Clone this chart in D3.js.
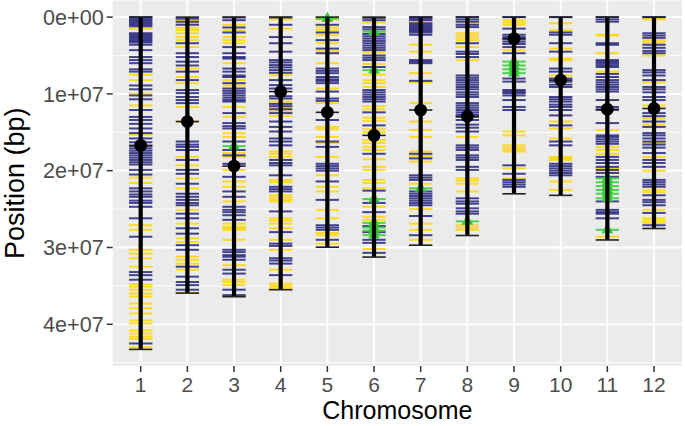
<!DOCTYPE html>
<html>
<head>
<meta charset="utf-8">
<script src="https://cdn.jsdelivr.net/npm/d3@7"></script>
<style>
  body { margin: 0; background: #ffffff; }
  svg text { font-family: "Liberation Sans", Arial, Helvetica, sans-serif; }
</style>
</head>
<body>
<div id="my_dataviz"></div>
<script>
// --------------------------------------
// Chromosomes (rice, IRGSP-1.0), lengths and centromeres in Mb
const chromosomes = [1, 2, 3, 4, 5, 6, 7, 8, 9, 10, 11, 12];
const chrLengthMb = [43.27, 35.94, 36.41, 35.50, 29.96, 31.25, 29.70, 28.44, 23.01, 23.21, 29.02, 27.53];
const centromereMb = [16.7, 13.6, 19.4, 9.7, 12.4, 15.4, 12.1, 12.9, 2.8, 8.2, 12.0, 11.9];

// Marker positions (Mb), one list per chromosome
const navyMarkers = [
    [0, 0.2, 0.4, 0.6, 0.8, 1.0, 1.2, 2.1, 2.3, 2.5, 2.7, 2.9, 3.1, 3.3, 3.6, 4.3, 5.2, 5.6, 6.0, 6.8, 7.1, 8.9, 9.4, 10.2, 10.7, 12.1, 13.0, 13.4, 13.9, 14.5, 15.1, 15.8, 16.3, 16.8, 17.1, 17.4, 17.7, 18.0, 18.3, 18.6, 18.9, 19.2, 19.9, 20.5, 22.3, 22.7, 23.1, 23.4, 23.9, 24.2, 24.7, 26.2, 28.6, 33.2, 33.6, 34.2, 42.5],
    [0.2, 0.6, 1.0, 3.4, 4.7, 5.2, 5.8, 6.3, 7.1, 8.2, 9.5, 9.9, 10.4, 10.8, 11.2, 16.2, 16.6, 16.9, 17.3, 18.6, 19.9, 20.4, 21.7, 23.0, 23.4, 23.8, 24.2, 24.5, 25.6, 26.2, 27.5, 28.2, 29.7, 30.3, 32.5, 33.8, 34.5, 34.9, 35.5],
    [0.05, 0.4, 1.35, 2.0, 3.9, 4.7, 5.2, 5.4, 6.7, 7.1, 7.6, 7.8, 8.6, 9.3, 9.6, 9.9, 10.2, 10.5, 10.8, 11.0, 12.5, 13.8, 14.2, 14.5, 16.2, 17.3, 18.0, 19.1, 20.8, 22.7, 23.4, 24.7, 25.1, 25.4, 25.8, 26.4, 30.3, 30.6, 31.0, 31.2, 31.6, 32.9, 33.4, 35.5, 36.2],
    [0.05, 1.0, 2.6, 3.4, 4.5, 5.6, 5.9, 6.25, 6.55, 6.9, 7.25, 8.2, 8.85, 9.3, 10.3, 10.6, 11.3, 11.6, 12.0, 12.5, 13.6, 14.3, 14.9, 15.8, 16.2, 16.7, 18.6, 19.0, 19.3, 20.6, 22.1, 22.4, 22.7, 25.3, 28.0, 29.5, 29.8, 31.4, 31.7, 32.1, 33.6],
    [1.0, 2.0, 3.0, 4.1, 4.7, 6.7, 7.0, 7.3, 7.8, 8.1, 8.3, 8.6, 9.7, 10.6, 10.9, 13.4, 16.2, 16.9, 19.1, 19.4, 19.7, 20.0, 21.4, 23.8, 27.1, 27.4, 27.7, 29.0],
    [0.1, 0.4, 1.3, 1.6, 2.2, 2.5, 2.8, 3.1, 3.4, 3.7, 4.0, 4.3, 5.0, 5.3, 5.6, 6.5, 9.5, 9.8, 10.1, 10.4, 10.7, 11.0, 12.4, 14.1, 17.8, 22.6, 24.2, 25.4, 27.2, 28.0, 29.0, 29.4, 30.7],
    [0.0, 0.2, 0.4, 0.8, 1.0, 1.2, 1.4, 1.6, 1.8, 2.0, 2.3, 5.6, 5.8, 6.0, 8.3, 17.8, 18.4, 20.6, 20.9, 21.2, 22.7, 23.0, 23.3, 23.6, 23.9, 24.2, 24.5, 25.9, 28.4],
    [0.0, 0.3, 0.6, 1.0, 1.3, 3.4, 4.5, 4.8, 5.2, 7.6, 7.9, 8.2, 8.5, 8.8, 9.1, 9.4, 9.8, 10.1, 10.4, 11.2, 11.5, 11.8, 12.1, 12.4, 12.7, 13.0, 13.4, 14.0, 14.4, 14.9, 16.7, 17.0, 17.3, 18.0, 18.3, 18.6, 19.5, 19.9, 23.6, 24.0, 24.3, 24.9, 25.3, 25.6],
    [0.0, 1.5, 2.3, 2.6, 2.9, 3.2, 3.5, 3.9, 4.7, 8.0, 8.4, 9.5, 9.7, 9.9, 10.2, 10.8, 11.7, 12.1, 19.3, 20.4, 21.2, 21.5, 21.8, 22.1],
    [0.0, 2.0, 2.3, 3.4, 4.5, 6.7, 7.1, 8.0, 8.4, 8.8, 9.1, 10.4, 10.7, 11.0, 11.4, 11.7, 12.1, 12.8, 14.1, 16.2, 16.7, 19.1, 19.4, 19.7, 20.0, 20.3, 20.6],
    [0.0, 0.3, 0.6, 3.4, 3.6, 5.6, 5.8, 6.0, 6.25, 6.5, 7.4, 7.8, 8.2, 8.5, 8.8, 9.1, 9.4, 9.7, 10.8, 11.7, 12.1, 13.8, 15.4, 15.6, 15.9, 16.2, 16.5, 18.2, 18.6, 19.0, 19.5, 19.9, 20.3, 20.8, 24.0, 25.1, 25.4, 25.6, 26.2],
    [0.0, 2.1, 2.4, 2.7, 3.6, 4.0, 4.4, 4.7, 6.9, 7.2, 7.6, 8.2, 9.1, 9.4, 9.8, 10.4, 10.8, 12.5, 12.9, 13.6, 14.3, 15.1, 15.4, 15.8, 16.2, 16.6, 17.0, 17.7, 18.6, 19.0, 19.5, 21.2, 21.5, 21.8, 22.1, 23.2, 23.8, 24.1, 24.5, 25.5, 27.1]
];
const goldMarkers = [
    [1.5, 7.5, 8.2, 10.0, 11.5, 15.3, 20.9, 21.6, 27.1, 27.7, 30.3, 30.8, 31.4, 32.5, 34.8, 35.1, 35.5, 36.0, 36.4, 37.3, 37.9, 38.6, 39.5, 39.9, 40.8, 41.2, 41.6, 41.9, 43.0],
    [0.4, 0.8, 1.4, 1.7, 2.1, 2.6, 3.0, 3.9, 6.7, 7.8, 8.6, 11.7, 13.6, 18.2, 19.3, 21.0, 22.3, 25.1, 26.9, 28.8, 29.3, 31.2, 31.6, 32.1, 32.9, 35.9],
    [1.0, 1.7, 2.6, 3.0, 3.4, 6.0, 8.2, 8.9, 11.7, 13.0, 15.1, 15.6, 17.7, 18.2, 19.9, 21.4, 22.1, 24.0, 26.9, 27.3, 27.5, 27.7, 29.0, 32.3, 34.2, 34.5, 34.9],
    [0.3, 1.5, 7.55, 11.0, 11.8, 12.3, 12.9, 17.5, 17.8, 18.2, 21.2, 21.5, 23.2, 23.5, 23.8, 24.0, 26.2, 26.5, 26.9, 27.5, 29.0, 30.3, 32.9, 34.7, 35.0, 35.3],
    [0.05, 0.3, 1.35, 1.7, 2.35, 3.4, 4.4, 6.0, 9.3, 11.2, 14.3, 14.6, 15.6, 16.4, 18.2, 20.6, 22.1, 22.7, 25.1, 26.2, 28.1, 28.4, 29.5],
    [0.7, 4.6, 6.1, 7.5, 8.2, 8.6, 9.1, 11.6, 12.0, 13.1, 13.5, 14.6, 15.0, 16.0, 16.4, 16.9, 17.3, 18.5, 19.5, 19.9, 21.2, 21.6, 22.3, 24.7, 26.0, 26.4, 30.2],
    [0.6, 3.6, 4.5, 7.3, 8.5, 11.2, 13.6, 14.7, 15.6, 17.5, 18.1, 18.8, 21.7, 25.0, 26.9, 27.7, 29.0],
    [0.8, 2.1, 2.4, 2.7, 3.0, 3.9, 5.6, 15.6, 21.0, 21.3, 21.7, 22.7, 27.1, 27.4, 27.7],
    [0.4, 0.7, 1.0, 4.3, 14.9, 15.4, 16.7, 17.0, 17.3, 17.5, 19.7, 21.0],
    [0.8, 1.7, 4.1, 5.4, 5.6, 7.6, 13.6, 14.5, 15.8, 18.2, 18.4, 18.6, 21.4, 22.5],
    [2.3, 2.4, 4.7, 7.1, 10.8, 14.7, 16.9, 17.3, 17.8, 19.7, 20.0, 28.6],
    [0.1, 0.3, 3.0, 3.3, 5.0, 8.5, 11.5, 13.2, 14.0, 16.4, 18.2, 20.0, 22.5, 22.8, 25.1, 26.2, 26.5, 26.8]
];
const greenMarkers = [
    [], [], [16.8], [], [0.2],
    [1.9, 6.9, 23.7, 26.8, 27.4, 27.8, 28.4],
    [22.3], [26.6],
    [5.8, 6.3, 6.8, 7.3],
    [],
    [21.0, 21.5, 22.0, 22.5, 23.0, 23.6, 27.7],
    []
];
const yTicks = [0, 1e7, 2e7, 3e7, 4e7];
const yTickLabels = ["0e+00", "1e+07", "2e+07", "3e+07", "4e+07"];
const yMinorTicks = [0.5e7, 1.5e7, 2.5e7, 3.5e7, 4.5e7];

const params = {
    svgElementId: "#my_dataviz",
    colors: { navy: "#191975", gold: "#ffd700", green: "#32cd32" }
};

// --------------------------------------
// Size of the picture and of the grey panel
const width = 685, height = 426;
const panel = { left: 112.7, right: 682, top: 0.5, bottom: 366 };
const MB = 1e6;

const svg = d3.select(params.svgElementId)
    .append("svg")
    .attr("width", width)
    .attr("height", height);

// ggplot-style expansion: 5% on each side of the continuous axis
const maxLen = d3.max(chrLengthMb) * MB;
const y = d3.scaleLinear()
    .domain([-0.05 * maxLen, 1.05 * maxLen])
    .range([panel.top, panel.bottom]);
const x = d3.scalePoint()
    .domain(chromosomes)
    .range([panel.left, panel.right])
    .padding(0.6);
const halfW = x.step() * 0.25;

// --------------------------------------
// Panel and grid
svg.append("rect")
    .attr("x", panel.left).attr("y", panel.top)
    .attr("width", panel.right - panel.left)
    .attr("height", panel.bottom - panel.top)
    .attr("fill", "#ebebeb");

const grid = svg.append("g");
grid.selectAll(".minor")
    .data(yMinorTicks)
    .join("line")
    .attr("x1", panel.left).attr("x2", panel.right)
    .attr("y1", d => y(d)).attr("y2", d => y(d))
    .attr("stroke", "#ffffff").attr("stroke-width", 0.9);
grid.selectAll(".majorY")
    .data(yTicks)
    .join("line")
    .attr("x1", panel.left).attr("x2", panel.right)
    .attr("y1", d => y(d)).attr("y2", d => y(d))
    .attr("stroke", "#ffffff").attr("stroke-width", 1.8);
grid.selectAll(".majorX")
    .data(chromosomes)
    .join("line")
    .attr("x1", d => x(d)).attr("x2", d => x(d))
    .attr("y1", panel.top).attr("y2", panel.bottom)
    .attr("stroke", "#ffffff").attr("stroke-width", 1.8);

// --------------------------------------
// Markers as short horizontal segments
function markerRows(lists, color) {
    const rows = [];
    lists.forEach((list, i) => list.forEach(pos => rows.push({ chr: chromosomes[i], pos: pos * MB, color: color })));
    return rows;
}
const markers = svg.append("g");
[["gold", goldMarkers, 0.85], ["navy", navyMarkers, 0.8], ["green", greenMarkers, 0.85]].forEach(([name, lists, op]) => {
    markers.append("g")
        .selectAll("line")
        .data(markerRows(lists, params.colors[name]))
        .join("line")
        .attr("x1", d => x(d.chr) - halfW)
        .attr("x2", d => x(d.chr) + halfW)
        .attr("y1", d => y(d.pos)).attr("y2", d => y(d.pos))
        .attr("stroke", d => d.color)
        .attr("stroke-opacity", op)
        .attr("stroke-width", 2);
});

// Green triangles on top of the green markers
const tri = d3.symbol().type(d3.symbolTriangle).size(60);
svg.append("g")
    .selectAll("path")
    .data(markerRows(greenMarkers, params.colors.green))
    .join("path")
    .attr("d", tri)
    .attr("transform", d => `translate(${x(d.chr)},${y(d.pos)})`)
    .attr("fill", params.colors.green);

// --------------------------------------
// Chromosome bodies, end caps and centromeres
const chrData = chromosomes.map((c, i) => ({ chr: c, len: chrLengthMb[i] * MB, cen: centromereMb[i] * MB }));
const body = svg.append("g");
body.selectAll(".chrline")
    .data(chrData)
    .join("line")
    .attr("x1", d => x(d.chr)).attr("x2", d => x(d.chr))
    .attr("y1", d => y(0)).attr("y2", d => y(d.len))
    .attr("stroke", "#000000").attr("stroke-width", 4.2);
body.selectAll(".cap")
    .data(chrData.flatMap(d => [{ chr: d.chr, pos: 0 }, { chr: d.chr, pos: d.len }, { chr: d.chr, pos: d.cen }]))
    .join("line")
    .attr("x1", d => x(d.chr) - halfW).attr("x2", d => x(d.chr) + halfW)
    .attr("y1", d => y(d.pos)).attr("y2", d => y(d.pos))
    .attr("stroke", "#222222").attr("stroke-width", 1.6);
body.selectAll("circle")
    .data(chrData)
    .join("circle")
    .attr("cx", d => x(d.chr)).attr("cy", d => y(d.cen))
    .attr("r", 6.4)
    .attr("fill", "#000000");

// --------------------------------------
// Axes
const axisColor = "#4d4d4d";
const yAxis = svg.append("g");
yAxis.selectAll("line")
    .data(yTicks)
    .join("line")
    .attr("x1", panel.left - 6).attr("x2", panel.left)
    .attr("y1", d => y(d)).attr("y2", d => y(d))
    .attr("stroke", "#333333").attr("stroke-width", 1.5);
yAxis.selectAll("text")
    .data(yTicks)
    .join("text")
    .attr("x", panel.left - 9)
    .attr("y", d => y(d))
    .attr("dy", "0.36em")
    .attr("text-anchor", "end")
    .attr("fill", axisColor)
    .style("font-size", "21.6px")
    .text((d, i) => yTickLabels[i]);

const xAxis = svg.append("g");
xAxis.selectAll("line")
    .data(chromosomes)
    .join("line")
    .attr("x1", d => x(d)).attr("x2", d => x(d))
    .attr("y1", panel.bottom).attr("y2", panel.bottom + 6)
    .attr("stroke", "#333333").attr("stroke-width", 1.5);
xAxis.selectAll("text")
    .data(chromosomes)
    .join("text")
    .attr("x", d => x(d))
    .attr("y", 392)
    .attr("text-anchor", "middle")
    .attr("fill", axisColor)
    .style("font-size", "21px")
    .text(d => d);

// Axis titles
svg.append("text")
    .attr("x", (panel.left + panel.right) / 2)
    .attr("y", 419)
    .attr("text-anchor", "middle")
    .attr("fill", "#000000")
    .style("font-size", "25px")
    .text("Chromosome");
svg.append("text")
    .attr("transform", `translate(24,${(panel.top + panel.bottom) / 2}) rotate(-90)`)
    .attr("text-anchor", "middle")
    .attr("fill", "#000000")
    .style("font-size", "27px")
    .text("Position (bp)");
</script>
</body>
</html>
